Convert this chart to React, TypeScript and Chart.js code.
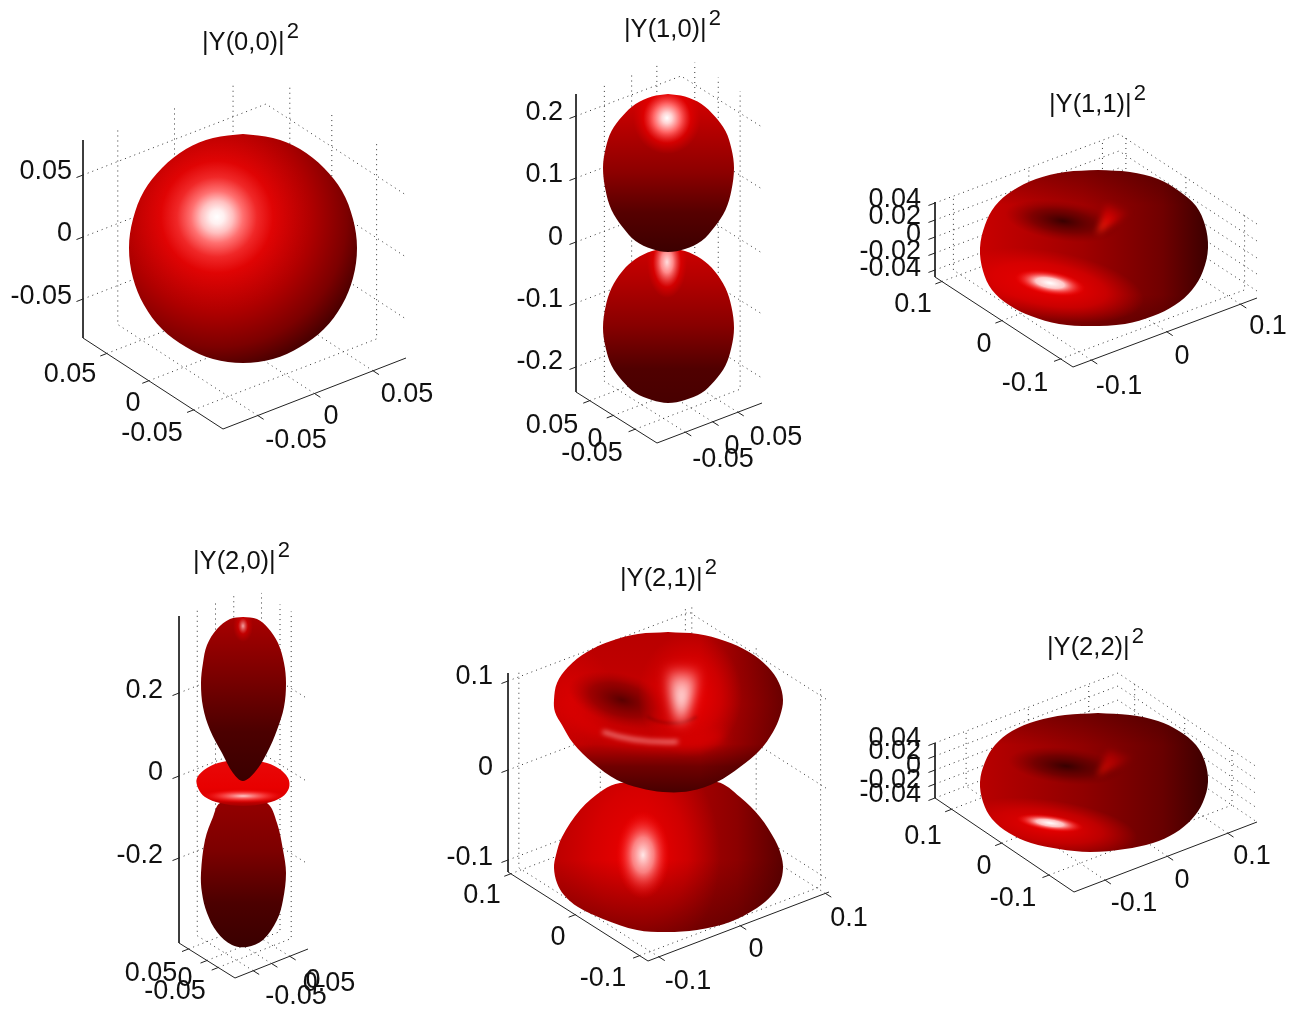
import React, { useEffect, useRef } from "react";
import { Chart, registerables } from "chart.js";

Chart.register(...registerables);

type Pt = [number, number];
const W = 1296;
const H = 1010;
const FONT = '"Liberation Sans", Arial, sans-serif';

/* ---------- text ---------- */
const titles = ["|Y(0,0)|", "|Y(1,0)|", "|Y(1,1)|", "|Y(2,0)|", "|Y(2,1)|", "|Y(2,2)|"];
const titleExponent = "2";
const ticksZ = [
  ["0.05", "0", "-0.05"],
  ["0.2", "0.1", "0", "-0.1", "-0.2"],
  ["0.04", "0.02", "0", "-0.02", "-0.04"],
  ["0.2", "0", "-0.2"],
  ["0.1", "0", "-0.1"],
  ["0.04", "0.02", "0", "-0.02", "-0.04"],
];
const ticksLeftAxis = [
  ["0.05", "0", "-0.05"],
  ["0.05", "0", "-0.05"],
  ["0.1", "0", "-0.1"],
  ["0.05", "0", "-0.05"],
  ["0.1", "0", "-0.1"],
  ["0.1", "0", "-0.1"],
];
const ticksRightAxis = [
  ["-0.05", "0", "0.05"],
  ["-0.05", "0", "0.05"],
  ["-0.1", "0", "0.1"],
  ["-0.05", "0", "0.05"],
  ["-0.1", "0", "0.1"],
  ["-0.1", "0", "0.1"],
];

/* ---------- silhouettes ---------- */
const y00Sphere: Pt[] = [
  [243, 134], [273, 138], [300, 149], [324, 168], [342, 191], [353, 219], [357, 248], [353, 278], [342, 305], [324, 329],
  [300, 347], [273, 359], [243, 363], [213, 359], [186, 347], [162, 329], [144, 305], [133, 278], [129, 248], [133, 219],
  [144, 191], [162, 168], [186, 149], [213, 138],
];
const y10Upper: Pt[] = [
  [668, 94], [685, 96.5], [701.5, 104], [714.5, 116], [725.5, 131], [731.5, 149], [734, 168], [731.5, 190], [725.5, 210], [714.5, 227],
  [701.5, 241], [685, 249], [668, 252], [652, 249], [635.5, 241], [622.5, 227], [611.5, 210], [605.5, 190], [603, 168], [605.5, 149],
  [611.5, 131], [622.5, 116], [635.5, 104], [652, 96.5],
];
const y10Lower: Pt[] = [
  [668, 248], [685, 251], [701.5, 259], [714.5, 271], [725.5, 288], [731.5, 307], [734, 328], [731.5, 347], [725.5, 365.5], [714.5, 381],
  [701.5, 393], [685, 400], [668, 403], [652, 400], [635.5, 393], [622.5, 381], [611.5, 365.5], [605.5, 347], [603, 328], [605.5, 307],
  [611.5, 288], [622.5, 271], [635.5, 259], [652, 251],
];
const y11Torus: Pt[] = [
  [1098, 170], [1130, 172], [1158, 179], [1179, 191], [1196, 206], [1205, 225], [1208, 248], [1203, 271], [1192, 290], [1175, 305],
  [1153, 316], [1125, 324], [1090, 326], [1059, 324], [1031, 316], [1009, 305], [992, 290], [983, 271], [980, 248], [985, 225],
  [995, 206], [1012, 191], [1036, 179], [1065, 172],
];
const y20Upper: Pt[] = [
  [243, 617], [257, 619], [268, 628], [278, 643], [284, 663], [286, 683], [284, 707], [277, 730], [267, 753], [255, 772],
  [243, 781], [233, 773], [222, 753], [210, 730], [203, 707], [201, 683], [203, 663], [207, 645], [217, 629], [230, 619],
];
const y20Disc: Pt[] = [
  [243, 760], [263, 762], [278, 768], [288, 778], [289, 788], [282, 797], [267, 803], [243, 806], [220, 803], [205, 797],
  [198, 788], [197, 778], [207, 768], [222, 762],
];
const y20Lower: Pt[] = [
  [243, 800], [267, 803], [277, 823], [283, 850], [286, 873], [283, 900], [277, 920], [263, 940], [247, 947], [232, 945],
  [217, 932], [207, 913], [202, 893], [201, 873], [205, 840], [213, 817], [220, 803],
];
const y21Upper: Pt[] = [
  [668, 632], [698, 634], [725, 641], [749, 652], [768, 667], [779, 683], [783, 700], [780, 716], [773, 732], [760, 750],
  [740, 767], [717, 782], [690, 791], [663, 792], [640, 788], [617, 780], [593, 763], [573, 743], [562, 725], [555, 712],
  [554, 700], [557, 683], [568, 667], [587, 652], [611, 641], [638, 634],
];
const y21Lower: Pt[] = [
  [663, 783], [717, 782], [740, 797], [760, 817], [775, 840], [781, 855], [783, 868], [780, 883], [772, 895], [757, 908],
  [730, 922], [697, 930], [667, 932], [637, 930], [603, 919], [578, 907], [564, 895], [557, 883], [554, 868], [556, 855],
  [562, 837], [580, 810], [603, 790], [620, 783],
];
const y22Torus: Pt[] = [
  [1098, 713], [1130, 715], [1158, 721], [1179, 731], [1196, 745], [1205, 762], [1208, 782], [1203, 802], [1192, 819], [1175, 833],
  [1153, 843], [1125, 849], [1090, 852], [1059, 849], [1031, 843], [1009, 833], [992, 819], [983, 802], [980, 782], [985, 762],
  [995, 745], [1012, 731], [1036, 721], [1065, 715],
];

/* ---------- layout of each panel's 3-D box ---------- */
type Panel = {
  A: Pt; B: Pt; C: Pt; top: number; zAt: number[]; leftT: number[]; rightT: number[];
  zLabelRight: number; zLabelY: number[]; leftAt: Pt[]; rightAt: Pt[]; title: Pt;
};
const panels: Panel[] = [
  { A: [83, 338], B: [223, 429], C: [406, 358], top: 140, zAt: [175, 237, 299], leftT: [0.17, 0.47, 0.79], rightT: [0.19, 0.5, 0.82],
    zLabelRight: 72, zLabelY: [172, 234, 297], leftAt: [[70, 375], [133, 404], [152, 434]], rightAt: [[296, 441], [331, 417], [407, 395]], title: [202, 50] },
  { A: [576, 392], B: [657, 443], C: [762, 403], top: 94, zAt: [116, 178, 242, 303, 367], leftT: [0.17, 0.46, 0.73], rightT: [0.27, 0.53, 0.77],
    zLabelRight: 563, zLabelY: [113, 175, 238, 300, 362], leftAt: [[552, 426], [595, 440], [592, 454]], rightAt: [[723, 460], [732, 447], [776, 438]], title: [624, 37] },
  { A: [935, 277], B: [1073, 367], C: [1257, 298], top: 202, zAt: [203, 220, 237, 253, 270], leftT: [0.05, 0.485, 0.91], rightT: [0.1, 0.51, 0.91],
    zLabelRight: 921, zLabelY: [200, 217, 235, 252, 269], leftAt: [[913, 305], [984, 345], [1025, 384]], rightAt: [[1119, 387], [1182, 357], [1268, 327]], title: [1049, 112] },
  { A: [179, 943], B: [235, 978], C: [308, 949], top: 616, zAt: [693, 776, 858], leftT: [0.17, 0.5, 0.7], rightT: [0.25, 0.5, 0.75],
    zLabelRight: 163, zLabelY: [691, 773, 856], leftAt: [[151, 974], [185, 979], [175, 992]], rightAt: [[296, 997], [313, 981], [329, 984]], title: [193, 569] },
  { A: [508, 872], B: [648, 961], C: [829, 892], top: 673, zAt: [681, 770, 860], leftT: [0.02, 0.48, 0.94], rightT: [0.06, 0.51, 0.98],
    zLabelRight: 493, zLabelY: [677, 768, 858], leftAt: [[482, 896], [558, 938], [603, 979]], rightAt: [[688, 982], [756, 950], [849, 919]], title: [620, 586] },
  { A: [935, 798], B: [1074, 892], C: [1257, 822], top: 743, zAt: [743, 756, 770, 784, 798], leftT: [0.12, 0.48, 0.82], rightT: [0.17, 0.51, 0.84],
    zLabelRight: 921, zLabelY: [739, 752, 766, 781, 795], leftAt: [[923, 837], [984, 867], [1013, 899]], rightAt: [[1134, 904], [1182, 881], [1252, 857]], title: [1047, 655] },
];

/* ---------- surface shading (style only) ---------- */
type Stop = [number, string];
type Layer =
  | { lin: [number, number, number, number]; stops: Stop[] }
  | { c: Pt; r: Pt; rot?: number; stops: Stop[] }
  | { arc: [number, number, number, number, number, number]; width: number; color: string; blur: number }
  | { poly: Pt[]; gc: Pt; gr: number; stops: Stop[]; blur: number };

const shadeSphere: Layer[] = [
  { c: [217, 217], r: [200, 200], stops: [[0, "#ffffff"], [0.035, "#fff0f0"], [0.08, "#ffc0c0"], [0.13, "#ff7070"], [0.2, "#f02828"], [0.28, "#e00404"], [0.47, "#b00000"], [0.65, "#7c0000"], [0.76, "#4c0000"], [1, "#300000"]] },
];
const shadeY10Upper: Layer[] = [
  { lin: [0, 94, 0, 252], stops: [[0, "#d80000"], [0.2, "#b80000"], [0.5, "#8c0000"], [0.75, "#560000"], [1, "#3c0000"]] },
  { c: [667, 118], r: [34, 36], stops: [[0, "#ffffff"], [0.15, "#ffd4d4"], [0.4, "#ff6464"], [0.7, "rgba(230,0,0,0.7)"], [1, "rgba(220,0,0,0)"]] },
];
const shadeY10Lower: Layer[] = [
  { lin: [0, 248, 0, 403], stops: [[0, "#cc0000"], [0.2, "#b40000"], [0.5, "#880000"], [0.78, "#500000"], [1, "#480000"]] },
  { c: [667, 262], r: [20, 36], stops: [[0, "#ffdcdc"], [0.3, "#ff8a8a"], [0.7, "rgba(225,0,0,0.7)"], [1, "rgba(220,0,0,0)"]] },
];
const shadeY11: Layer[] = [
  { lin: [980, 0, 1208, 0], stops: [[0, "#c80000"], [0.45, "#a00000"], [0.8, "#700000"], [1, "#3c0000"]] },
  { lin: [0, 170, 0, 205], stops: [[0, "rgba(50,0,0,0.35)"], [1, "rgba(50,0,0,0)"]] },
  { lin: [0, 295, 0, 326], stops: [[0, "rgba(50,0,0,0)"], [1, "rgba(50,0,0,0.4)"]] },
  { c: [1063, 221], r: [58, 20], rot: 8, stops: [[0, "rgba(45,0,0,0.9)"], [0.55, "rgba(85,0,0,0.55)"], [1, "rgba(120,0,0,0)"]] },
  { poly: [[1097, 234], [1106, 204], [1131, 212]], gc: [1097, 234], gr: 42, stops: [[0, "#ff3010"], [0.5, "rgba(225,0,0,0.8)"], [1, "rgba(170,0,0,0)"]], blur: 3 },
  { c: [1050, 285], r: [95, 34], rot: 10, stops: [[0, "#f00000"], [0.6, "rgba(230,0,0,0.65)"], [1, "rgba(220,0,0,0)"]] },
  { c: [1050, 283], r: [36, 12], rot: 10, stops: [[0, "#ffffff"], [0.4, "#ffc8c8"], [1, "rgba(255,0,0,0)"]] },
];
const shadeY20Upper: Layer[] = [
  { lin: [0, 617, 0, 781], stops: [[0, "#a80000"], [0.35, "#7c0000"], [0.7, "#4c0000"], [1, "#3a0000"]] },
  { c: [243, 626], r: [10, 16], stops: [[0, "#f4a0a0"], [0.5, "rgba(210,0,0,0.7)"], [1, "rgba(200,0,0,0)"]] },
];
const shadeY20Disc: Layer[] = [
  { lin: [0, 760, 0, 806], stops: [[0, "#e80808"], [0.6, "#e80000"], [0.85, "#d80000"], [1, "#a00000"]] },
  { c: [243, 796], r: [42, 7], stops: [[0, "#ffc8c8"], [0.5, "rgba(255,80,80,0.7)"], [1, "rgba(255,0,0,0)"]] },
];
const shadeY20Lower: Layer[] = [
  { lin: [0, 800, 0, 947], stops: [[0, "#940000"], [0.35, "#7c0000"], [0.7, "#4c0000"], [1, "#3a0000"]] },
];
const shadeY21Upper: Layer[] = [
  { lin: [0, 632, 0, 792], stops: [[0, "#b80000"], [0.25, "#c00000"], [0.45, "#c80000"], [0.7, "#bc0000"], [0.84, "#700000"], [1, "#480000"]] },
  { lin: [700, 0, 785, 0], stops: [[0, "rgba(40,0,0,0)"], [1, "rgba(40,0,0,0.6)"]] },
  { c: [570, 700], r: [44, 56], stops: [[0, "#d80000"], [1, "rgba(215,0,0,0)"]] },
  { c: [622, 700], r: [55, 26], rot: 15, stops: [[0, "rgba(70,0,0,0.85)"], [0.6, "rgba(110,0,0,0.5)"], [1, "rgba(150,0,0,0)"]] },
  { c: [690, 695], r: [52, 62], stops: [[0, "#ee0000"], [0.6, "rgba(225,0,0,0.6)"], [1, "rgba(220,0,0,0)"]] },
  { arc: [668, 700, 100, 42, 60, 170], width: 10, color: "#d80000", blur: 6 },
  { arc: [672, 690, 42, 33, 55, 125], width: 2, color: "rgba(80,0,0,0.4)", blur: 1.5 },
  { poly: [[676, 724], [666, 668], [700, 668], [685, 724]], gc: [681, 698], gr: 36, stops: [[0, "#fff0f0"], [0.5, "rgba(255,170,170,0.9)"], [1, "rgba(255,60,60,0.15)"]], blur: 6 },
  { arc: [668, 700, 100, 42, 85, 130], width: 3, color: "rgba(255,190,190,0.85)", blur: 2.5 },
];
const shadeY21Lower: Layer[] = [
  { lin: [554, 0, 783, 0], stops: [[0, "#c00000"], [0.4, "#c00000"], [0.8, "#8c0000"], [1, "#5a0000"]] },
  { c: [640, 855], r: [80, 110], stops: [[0, "#f00000"], [0.6, "rgba(225,0,0,0.65)"], [1, "rgba(220,0,0,0)"]] },
  { lin: [0, 860, 0, 932], stops: [[0, "rgba(60,0,0,0)"], [1, "rgba(60,0,0,0.5)"]] },
  { c: [643, 855], r: [27, 44], stops: [[0, "#ffe8e8"], [0.4, "rgba(255,150,150,0.85)"], [1, "rgba(255,0,0,0)"]] },
];
const shadeY22: Layer[] = [
  { lin: [980, 0, 1208, 0], stops: [[0, "#b80000"], [0.45, "#900000"], [0.8, "#680000"], [1, "#3c0000"]] },
  { lin: [0, 713, 0, 745], stops: [[0, "rgba(50,0,0,0.35)"], [1, "rgba(50,0,0,0)"]] },
  { c: [1066, 766], r: [58, 18], rot: 6, stops: [[0, "rgba(45,0,0,0.9)"], [0.55, "rgba(80,0,0,0.55)"], [1, "rgba(110,0,0,0)"]] },
  { poly: [[1097, 776], [1108, 750], [1136, 757]], gc: [1097, 776], gr: 44, stops: [[0, "#d81000"], [0.5, "rgba(190,0,0,0.75)"], [1, "rgba(150,0,0,0)"]], blur: 3 },
  { c: [1050, 826], r: [88, 26], rot: 8, stops: [[0, "#ee0000"], [0.6, "rgba(225,0,0,0.6)"], [1, "rgba(220,0,0,0)"]] },
  { c: [1050, 823], r: [34, 8], rot: 8, stops: [[0, "#ffffff"], [0.4, "#ffc0c0"], [1, "rgba(255,0,0,0)"]] },
];

/* back-to-front surfaces */
const surfaces: { outline: Pt[]; shade: Layer[] }[] = [
  { outline: y00Sphere, shade: shadeSphere },
  { outline: y10Lower, shade: shadeY10Lower },
  { outline: y10Upper, shade: shadeY10Upper },
  { outline: y11Torus, shade: shadeY11 },
  { outline: y20Lower, shade: shadeY20Lower },
  { outline: y20Disc, shade: shadeY20Disc },
  { outline: y20Upper, shade: shadeY20Upper },
  { outline: y21Lower, shade: shadeY21Lower },
  { outline: y21Upper, shade: shadeY21Upper },
  { outline: y22Torus, shade: shadeY22 },
];

function paintShade(layers: Layer[]): CanvasPattern | string {
  const off = document.createElement("canvas");
  off.width = W;
  off.height = H;
  const g = off.getContext("2d")!;
  const rad = Math.PI / 180;
  for (const l of layers) {
    g.save();
    if ("lin" in l) {
      const gr = g.createLinearGradient(l.lin[0], l.lin[1], l.lin[2], l.lin[3]);
      l.stops.forEach(([t, c]) => gr.addColorStop(t, c));
      g.fillStyle = gr;
      g.fillRect(0, 0, W, H);
    } else if ("arc" in l) {
      g.filter = `blur(${l.blur}px)`;
      g.strokeStyle = l.color;
      g.lineWidth = l.width;
      g.lineCap = "round";
      g.beginPath();
      g.ellipse(l.arc[0], l.arc[1], l.arc[2], l.arc[3], 0, l.arc[4] * rad, l.arc[5] * rad);
      g.stroke();
    } else if ("poly" in l) {
      g.filter = `blur(${l.blur}px)`;
      const gr = g.createRadialGradient(l.gc[0], l.gc[1], 0, l.gc[0], l.gc[1], l.gr);
      l.stops.forEach(([t, c]) => gr.addColorStop(t, c));
      g.fillStyle = gr;
      g.beginPath();
      l.poly.forEach(([x, y], i) => (i ? g.lineTo(x, y) : g.moveTo(x, y)));
      g.closePath();
      g.fill();
    } else {
      g.translate(l.c[0], l.c[1]);
      g.rotate((l.rot ?? 0) * rad);
      g.scale(l.r[0], l.r[1]);
      const gr = g.createRadialGradient(0, 0, 0, 0, 0, 1);
      l.stops.forEach(([t, c]) => gr.addColorStop(t, c));
      g.fillStyle = gr;
      g.beginPath();
      g.arc(0, 0, 1, 0, Math.PI * 2);
      g.fill();
    }
    g.restore();
  }
  return g.createPattern(off, "no-repeat") ?? "#a00000";
}

type XY = { x: number | null; y: number | null };
const gap: XY = { x: null, y: null };
const P = (x: number, y: number): XY => ({ x, y });

function gridLines(p: Panel): XY[] {
  const ab: Pt = [p.B[0] - p.A[0], p.B[1] - p.A[1]];
  const bc: Pt = [p.C[0] - p.B[0], p.C[1] - p.B[1]];
  const h = p.A[1] - p.top;
  const out: XY[] = [];
  for (const z of p.zAt) {
    const d = p.A[1] - z;
    out.push(P(p.A[0], z), P(p.A[0] + bc[0], p.A[1] + bc[1] - d), P(p.C[0], p.C[1] - d), gap);
  }
  for (const t of p.leftT) {
    const lx = p.A[0] + t * ab[0];
    const ly = p.A[1] + t * ab[1];
    out.push(P(lx, ly), P(lx + bc[0], ly + bc[1]), P(lx + bc[0], ly + bc[1] - h), gap);
  }
  for (const t of p.rightT) {
    const rx = p.B[0] + t * bc[0];
    const ry = p.B[1] + t * bc[1];
    out.push(P(rx, ry), P(rx - ab[0], ry - ab[1]), P(rx - ab[0], ry - ab[1] - h), gap);
  }
  return out;
}

function axisLines(p: Panel): XY[] {
  const ab: Pt = [p.B[0] - p.A[0], p.B[1] - p.A[1]];
  const bc: Pt = [p.C[0] - p.B[0], p.C[1] - p.B[1]];
  const abLen = Math.hypot(ab[0], ab[1]);
  const bcLen = Math.hypot(bc[0], bc[1]);
  const tick = 7;
  const ux = (bc[0] / bcLen) * tick;
  const uy = (bc[1] / bcLen) * tick;
  const vx = (ab[0] / abLen) * tick;
  const vy = (ab[1] / abLen) * tick;
  const out: XY[] = [P(p.A[0], p.top), P(p.A[0], p.A[1]), P(p.B[0], p.B[1]), P(p.C[0], p.C[1]), gap];
  for (const z of p.zAt) out.push(P(p.A[0], z), P(p.A[0] - ux, z - uy), gap);
  for (const t of p.leftT) {
    const x = p.A[0] + t * ab[0];
    const y = p.A[1] + t * ab[1];
    out.push(P(x, y), P(x - ux, y - uy), gap);
  }
  for (const t of p.rightT) {
    const x = p.B[0] + t * bc[0];
    const y = p.B[1] + t * bc[1];
    out.push(P(x, y), P(x + vx, y + vy), gap);
  }
  return out;
}

const textPlugin = {
  id: "panelText",
  afterDraw(chart: any) {
    const { ctx, scales } = chart;
    const sx = (v: number) => scales.x.getPixelForValue(v);
    const sy = (v: number) => scales.y.getPixelForValue(v);
    ctx.save();
    ctx.fillStyle = "#111";
    ctx.textBaseline = "middle";
    ctx.font = `27px ${FONT}`;
    panels.forEach((p, i) => {
      ctx.textAlign = "right";
      ticksZ[i].forEach((t, k) => ctx.fillText(t, sx(p.zLabelRight), sy(p.zLabelY[k])));
      ctx.textAlign = "center";
      ticksLeftAxis[i].forEach((t, k) => ctx.fillText(t, sx(p.leftAt[k][0]), sy(p.leftAt[k][1])));
      ticksRightAxis[i].forEach((t, k) => ctx.fillText(t, sx(p.rightAt[k][0]), sy(p.rightAt[k][1])));
    });
    ctx.textAlign = "left";
    ctx.textBaseline = "alphabetic";
    panels.forEach((p, i) => {
      ctx.font = `25.5px ${FONT}`;
      const x = sx(p.title[0]);
      const y = sy(p.title[1]);
      ctx.fillText(titles[i], x, y);
      const w = ctx.measureText(titles[i]).width;
      ctx.font = `22px ${FONT}`;
      ctx.fillText(titleExponent, x + w + 2, y - 12);
    });
    ctx.restore();
  },
};

export default function App() {
  const ref = useRef<HTMLCanvasElement>(null);
  useEffect(() => {
    if (!ref.current) return;
    const datasets: any[] = [];
    const base = { pointRadius: 0, pointHoverRadius: 0, fill: false, tension: 0, spanGaps: false };
    panels.forEach((p, i) => {
      datasets.push({ ...base, label: `grid ${titles[i]}`, data: gridLines(p), borderColor: "#333", borderWidth: 1, borderDash: [1, 4] });
      datasets.push({ ...base, label: `axes ${titles[i]}`, data: axisLines(p), borderColor: "#222", borderWidth: 1 });
    });
    surfaces.forEach((s, i) => {
      datasets.push({
        ...base,
        label: `surface ${i}`,
        data: [...s.outline, s.outline[0]].map(([x, y]) => ({ x, y })),
        fill: "shape",
        tension: 0.35,
        borderWidth: 0,
        borderColor: "transparent",
        backgroundColor: paintShade(s.shade),
      });
    });
    datasets.forEach((d, i) => (d.order = -i));
    const chart = new Chart(ref.current, {
      type: "line",
      data: { datasets },
      options: {
        animation: false,
        responsive: false,
        events: [],
        layout: { padding: 0 },
        plugins: { legend: { display: false }, tooltip: { enabled: false }, title: { display: false } },
        scales: {
          x: { type: "linear", display: false, min: 0, max: W },
          y: { type: "linear", display: false, min: 0, max: H, reverse: true },
        },
      },
      plugins: [textPlugin],
    } as any);
    return () => chart.destroy();
  }, []);
  return (
    <div style={{ position: "absolute", left: 0, top: 0, width: W, height: H, background: "#fff" }}>
      <canvas ref={ref} width={W} height={H} style={{ display: "block" }} />
    </div>
  );
}
